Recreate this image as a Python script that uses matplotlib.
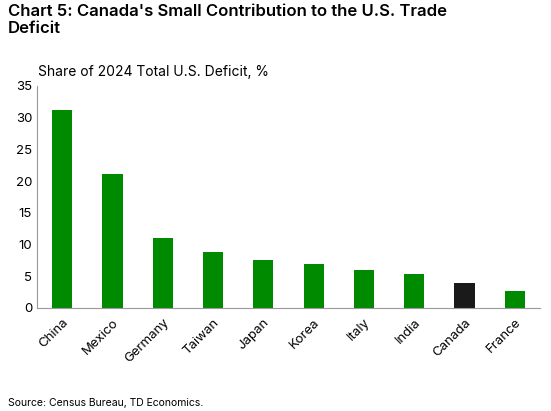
import matplotlib
matplotlib.use("Agg")
import matplotlib.pyplot as plt

countries = ["China", "Mexico", "Germany", "Taiwan", "Japan", "Korea", "Italy", "India", "Canada", "France"]
shares = [31.2, 21.2, 11.1, 8.8, 7.6, 7.0, 6.0, 5.3, 4.0, 2.7]
colors = ["#008a00"] * 8 + ["#1a1a1a", "#008a00"]

plt.rcParams['font.family'] = ['Inter', 'DejaVu Sans']
fig = plt.figure(figsize=(5.51, 4.11), dpi=100)
ax = fig.add_axes([37/551, 1-308/411, 503/551, 222/411])
ax.bar(range(len(countries)), shares, width=0.4, color=colors)
ax.set_xlim(-0.5, 9.5)
ax.set_ylim(0, 35)
ax.set_yticks(range(0, 36, 5))
ax.set_xticks(range(len(countries)))
ax.set_xticklabels(countries, rotation=45, ha='right', rotation_mode='anchor', fontsize=9.5)
ax.tick_params(axis='y', labelsize=9.5, length=0)
ax.tick_params(axis='x', length=0, pad=6)
for s in ['top', 'right']:
    ax.spines[s].set_visible(False)
ax.spines['left'].set_color('#999999')
ax.spines['bottom'].set_color('#999999')

fig.text(8/551, 1-20/411, "Chart 5: Canada's Small Contribution to the U.S. Trade\nDeficit",
         fontsize=12, fontweight='semibold', va='center', ha='left', linespacing=1.2)
fig.text(38/551, 1-72/411, "Share of 2024 Total U.S. Deficit, %", fontsize=10, va='center')
fig.text(8/551, 1-403/411, "Source: Census Bureau, TD Economics.", fontsize=7.5, va='center')
fig.savefig("out.png", dpi=100)
